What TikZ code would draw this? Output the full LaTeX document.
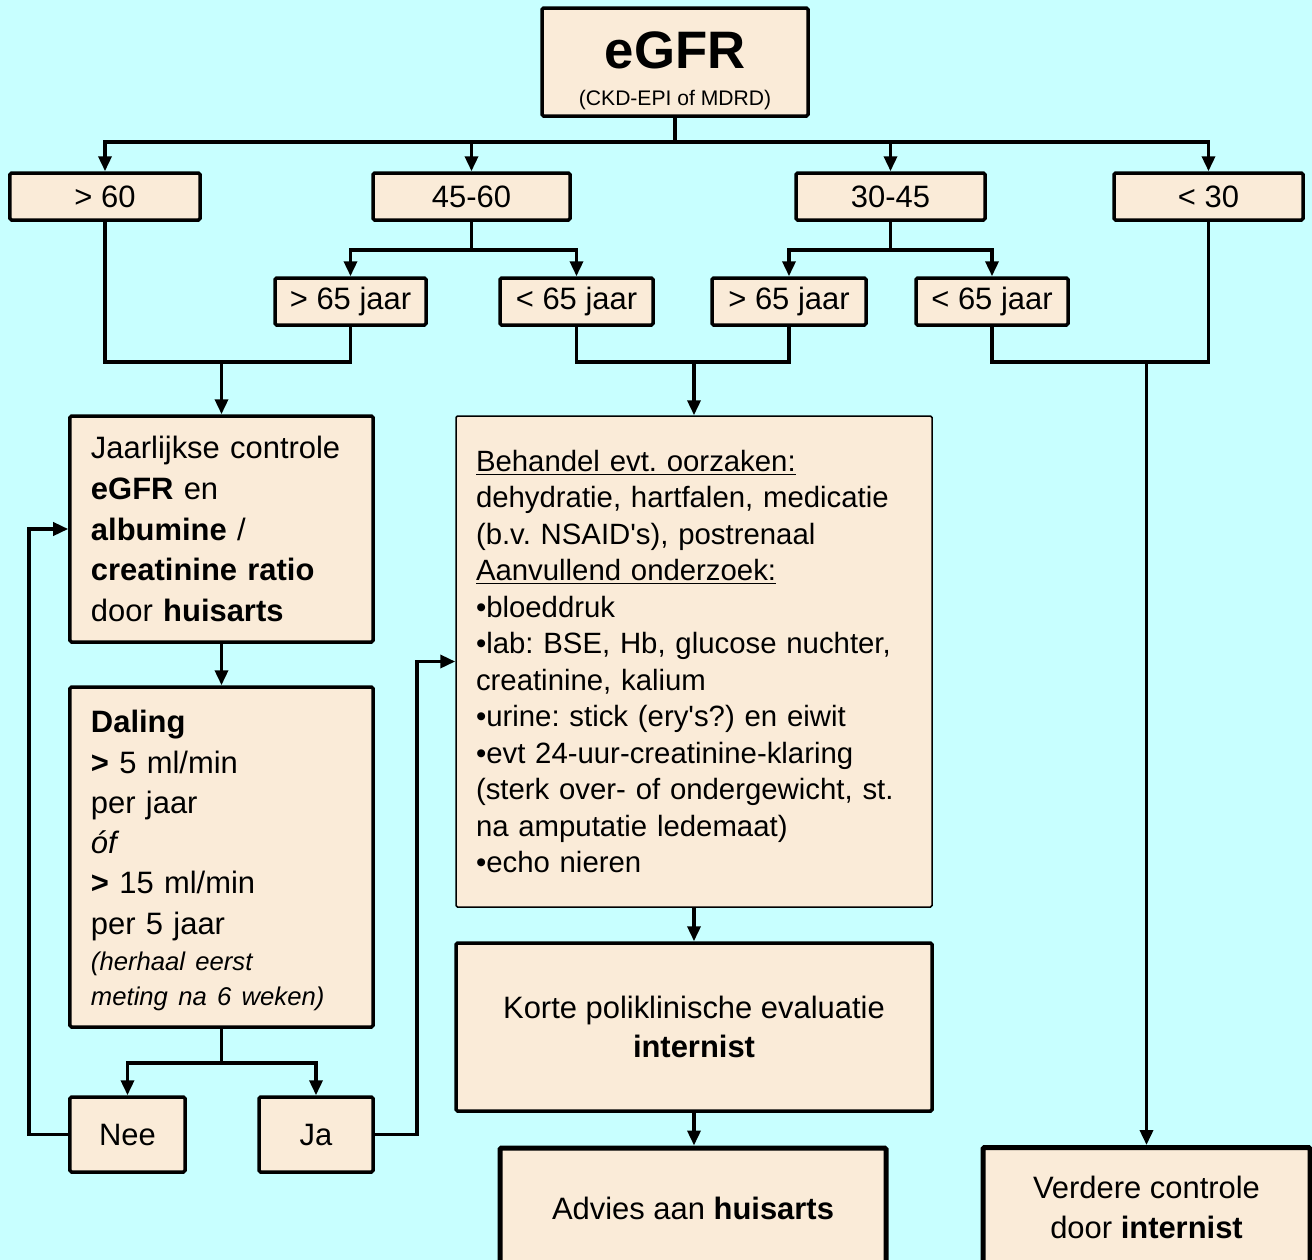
\documentclass[tikz,border=0pt]{standalone}
\usepackage{fontspec}
\setmainfont{Liberation Sans}
\usetikzlibrary{arrows.meta}

\definecolor{bgcyan}{RGB}{200,255,255}
\definecolor{boxfill}{RGB}{250,235,216}

\newcommand{\rowfont}{\fontsize{17.6}{22.6}\selectfont\frenchspacing}
\newcommand{\bigfont}{\fontsize{16.7}{20.75}\selectfont\frenchspacing}
\newcommand{\notefont}{\fontsize{14.6}{19.8}\selectfont\itshape}

\begin{document}
\begin{tikzpicture}[x=0.2mm,y=-0.2mm,
  box/.style={draw,line width=0.7mm,fill=boxfill,rounded corners=0.3mm,inner sep=0pt,font=\rowfont,align=center},
  rowbox/.style={box,minimum height=9.4mm},
  con/.style={line width=0.7mm},
  arr/.style={con,-{Triangle[length=3mm,width=2.6mm]}}]
\fill[bgcyan] (0,0) rectangle (1312,1260);
\clip (0,0) rectangle (1312,1260);

\node[box,minimum width=53.2mm,minimum height=21.6mm] (egfr) at (675,62)
  {\rule{0pt}{31pt}{\fontsize{30}{34}\selectfont\bfseries eGFR}\\[-2pt]{\fontsize{12}{14}\selectfont (CKD-EPI of MDRD)}};

\node[rowbox,minimum width=38mm] (r60) at (105,196.5) {> 60};
\node[rowbox,minimum width=39.4mm] (r4560) at (471.5,196.5) {45-60};
\node[rowbox,minimum width=37.8mm] (r3045) at (890.5,196.5) {30-45};
\node[rowbox,minimum width=37.8mm] (r30) at (1208.5,196.5) {< 30};

\node[rowbox,minimum width=30.2mm] (a1) at (350.5,301.5) {> 65 jaar};
\node[rowbox,minimum width=30.6mm] (a2) at (576.5,301.5) {< 65 jaar};
\node[rowbox,minimum width=30.8mm] (a3) at (789,301.5) {> 65 jaar};
\node[rowbox,minimum width=30.4mm] (a4) at (992,301.5) {< 65 jaar};

\node[box,minimum width=60.6mm,minimum height=45.2mm,text width=52.2mm,align=left,
  font=\fontsize{17.6}{23.2}\selectfont] (jaar) at (221.5,529)
  {Jaarlijkse controle\\ \textbf{eGFR} en\\ \textbf{albumine} /\\ \textbf{creatinine ratio}\\ door \textbf{huisarts}};

\node[box,line width=0.3mm,minimum width=95.2mm,minimum height=98.2mm,text width=87.2mm,align=left,
  font=\bigfont] (big) at (694,661.5)
  {\underline{Behandel evt. oorzaken:}\\
   dehydratie, hartfalen, medicatie\\
   (b.v. NSAID\textquotesingle s), postrenaal\\
   \underline{Aanvullend onderzoek:}\\
   •bloeddruk\\
   •lab: BSE, Hb, glucose nuchter,\\
   creatinine, kalium\\
   •urine: stick (ery\textquotesingle s?) en eiwit\\
   •evt 24-uur-creatinine-klaring\\
   (sterk over- of ondergewicht, st.\\
   na amputatie ledemaat)\\
   •echo nieren};

\node[box,minimum width=60.6mm,minimum height=68mm,text width=52.2mm,align=left,
  font=\fontsize{17.6}{22.9}\selectfont] (daling) at (221.5,857)
  {\rule{0pt}{17pt}\textbf{Daling}\\ \textbf{>} 5 ml/min\\ per jaar\\ \textit{óf}\\ \textbf{>} 15 ml/min\\ per 5 jaar\\[-2pt]
   {\notefont (herhaal eerst}\\[-3pt] {\notefont meting na 6 weken)}};

\node[box,minimum width=23mm,minimum height=15mm] (nee) at (127.5,1134.5) {Nee};
\node[box,minimum width=22.8mm,minimum height=15mm] (ja) at (316,1134.5) {Ja};

\node[box,minimum width=95.2mm,minimum height=33.6mm] (korte) at (694,1027)
  {Korte poliklinische evaluatie\\ \textbf{internist}};
\node[box,line width=1mm,minimum width=77.2mm,minimum height=24mm] (advies) at (693,1208)
  {Advies aan \textbf{huisarts}};
\node[box,line width=1mm,minimum width=65.4mm,minimum height=24mm] (verdere) at (1146.5,1207.5)
  {Verdere controle\\ door \textbf{internist}};

\draw[con] (egfr.south) -- ++(0,24) coordinate (t0);
\foreach \n in {r60,r4560,r3045,r30}
  \draw[arr] (t0) -| (\n.north);

\draw[con] (r4560.south) -- ++(0,28) coordinate (t1);
\draw[arr] (t1) -| (a1.north);
\draw[arr] (t1) -| (a2.north);
\draw[con] (r3045.south) -- ++(0,28) coordinate (t2);
\draw[arr] (t2) -| (a3.north);
\draw[arr] (t2) -| (a4.north);

\coordinate (m1) at (jaar.north |- 0,362);
\coordinate (m2) at (big.north |- 0,362);
\coordinate (m3) at (verdere.north |- 0,362);
\draw[con] (r60.south) |- (a1.south |- m1) -- (a1.south);
\draw[arr] (m1) -- (jaar.north);
\draw[con] (a2.south) |- (a3.south |- m2) -- (a3.south);
\draw[arr] (m2) -- (big.north);
\draw[con] (a4.south) |- (r30.south |- m3) -- (r30.south);
\draw[arr] (m3) -- (verdere.north);

\draw[arr] (jaar.south) -- (daling.north);
\draw[con] (daling.south) -- ++(0,34) coordinate (t3);
\draw[arr] (t3) -| (nee.north);
\draw[arr] (t3) -| (ja.north);
\draw[arr] (nee.west) -- ++(-39,0) |- (jaar.west);
\draw[arr] (ja.east) -- ++(42,0) |- (big.west);

\draw[arr] (big.south) -- (korte.north);
\draw[arr] (korte.south) -- (korte.south |- advies.north);
\end{tikzpicture}
\end{document}
